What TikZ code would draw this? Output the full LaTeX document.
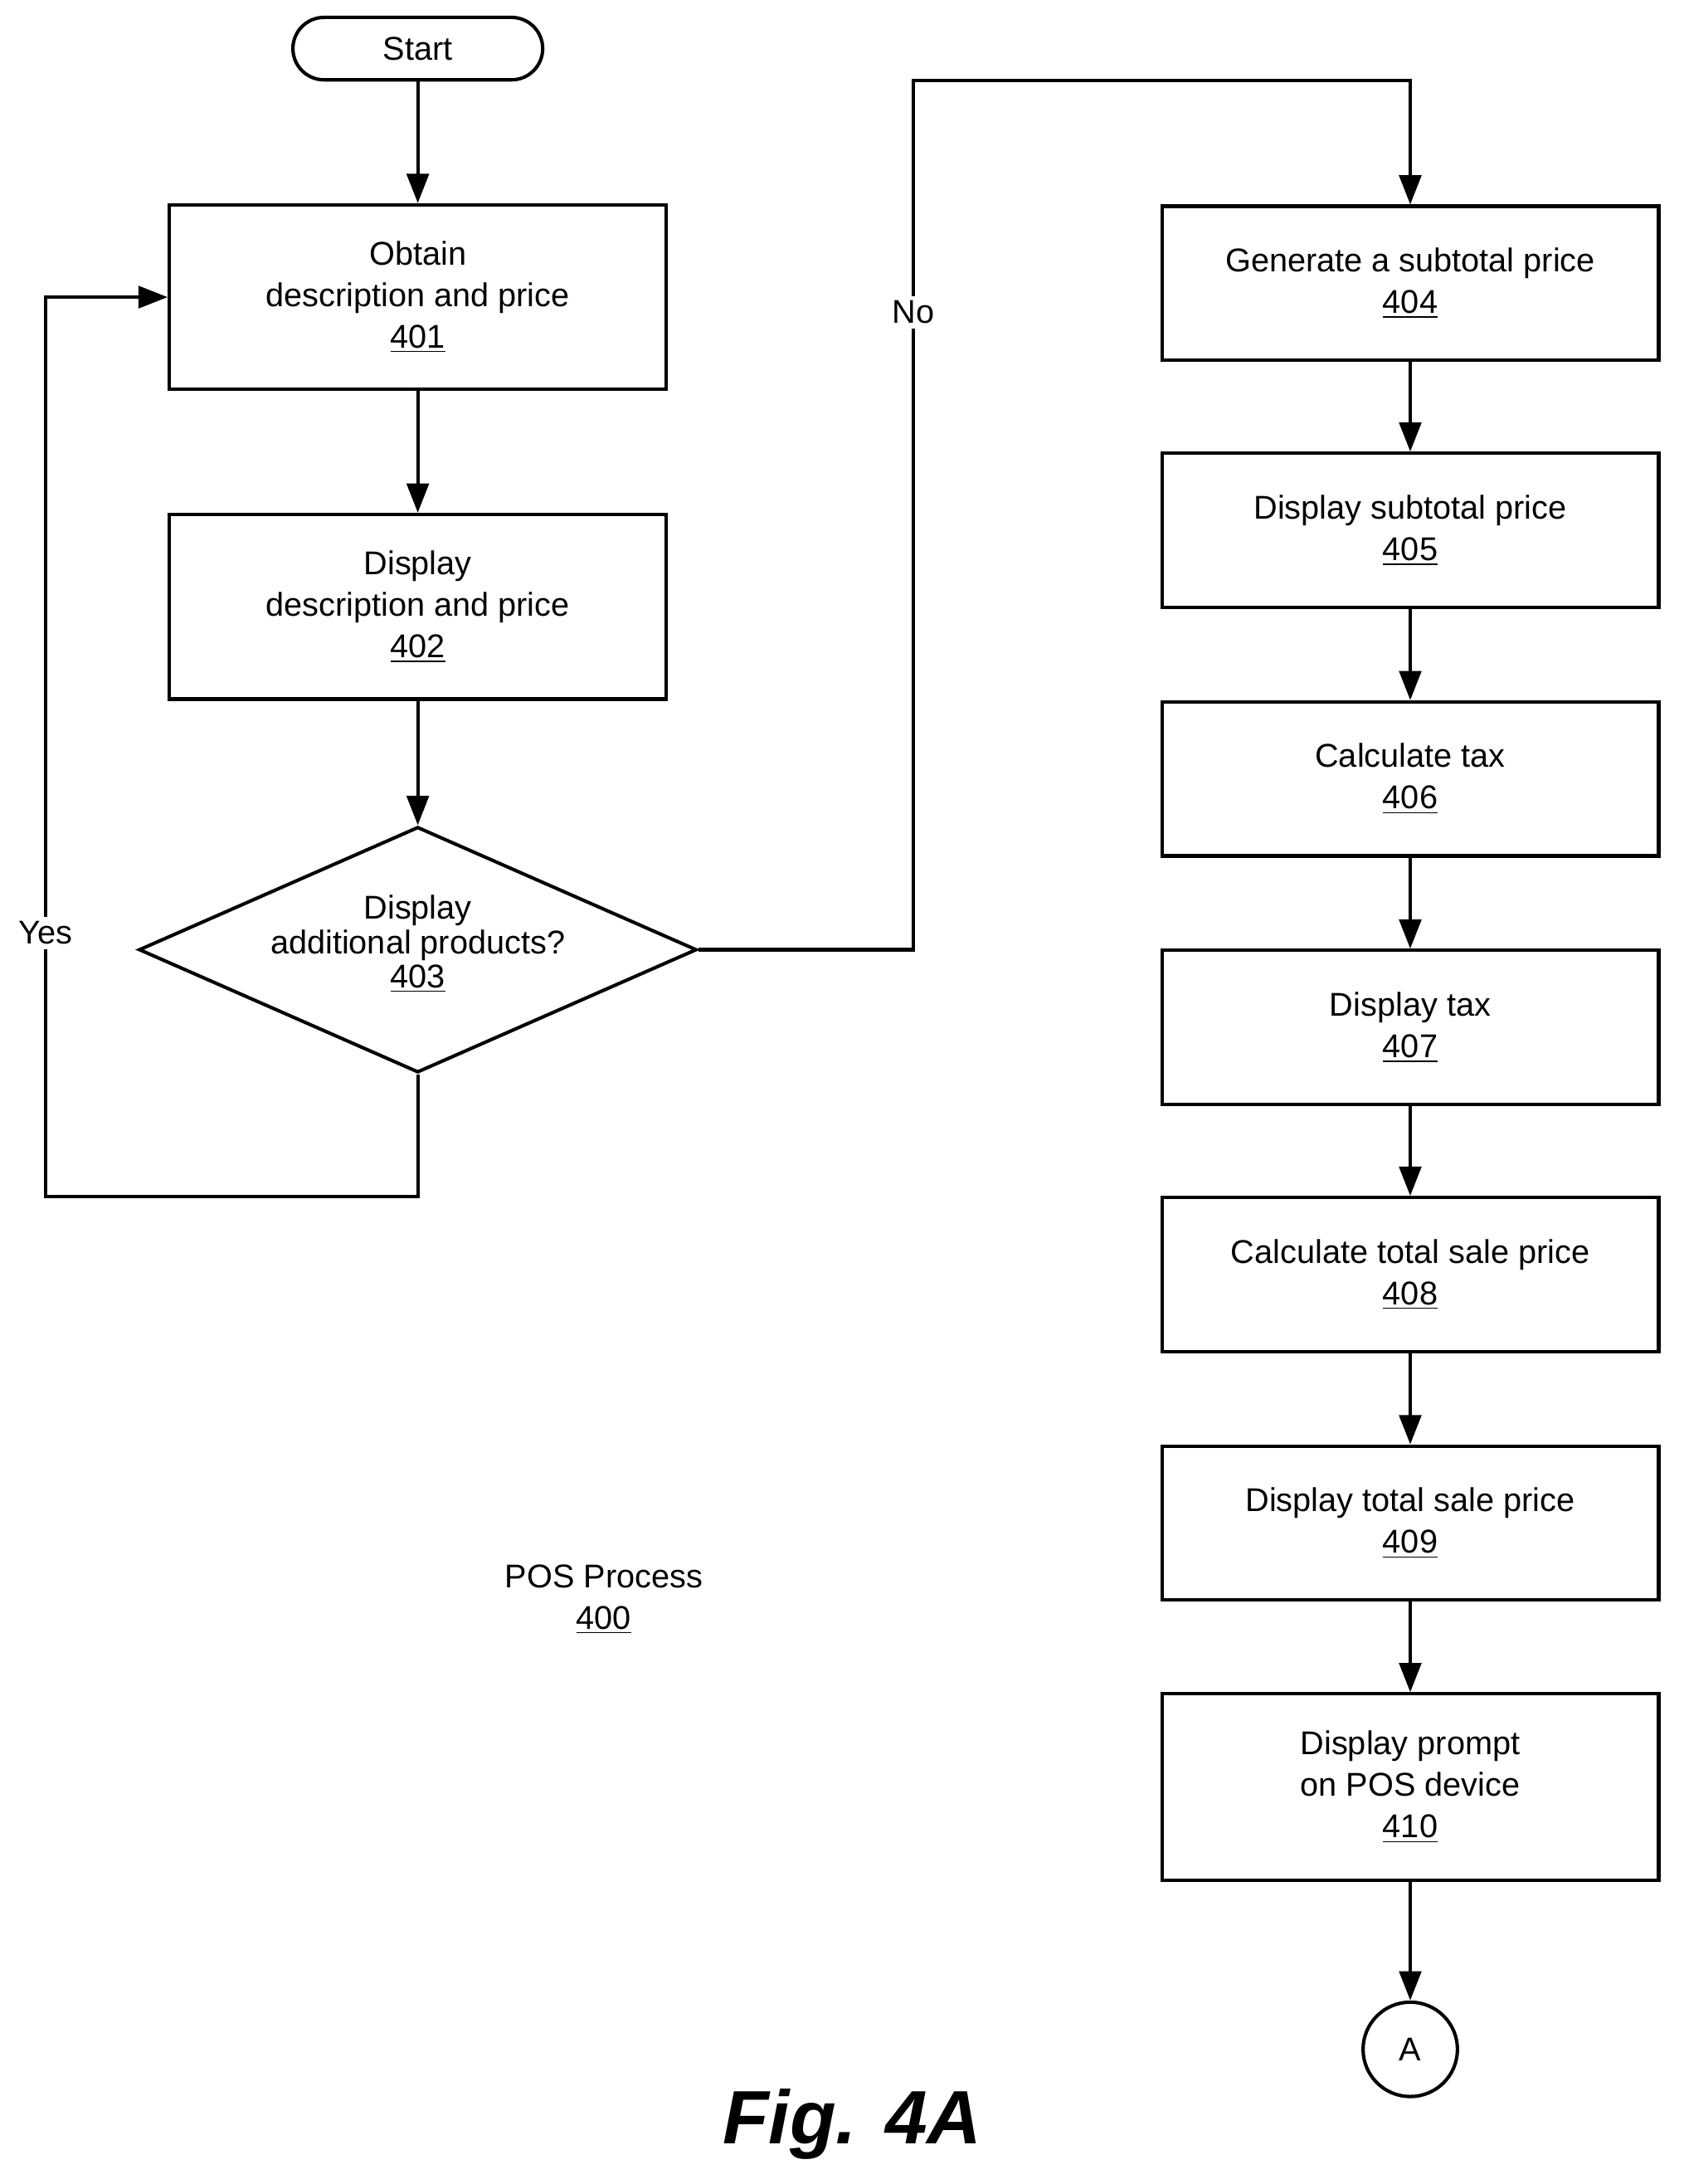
\documentclass[tikz,border=0pt]{standalone}
\usepackage{fontspec}
\setmainfont{Liberation Sans}
\usetikzlibrary{shapes.geometric,arrows.meta}
\begin{document}
\begin{tikzpicture}[x=0.02cm,y=-0.02cm,
  every node/.style={font=\fontsize{13.5}{17}\selectfont,align=center},
  box/.style={draw,line width=1.4pt,minimum width=7.16cm,inner sep=0pt},
  line/.style={line width=1.4pt},
  arr/.style={line width=1.4pt,-{Triangle[length=12pt,width=9pt]}}]
\useasboundingbox (0,0) rectangle (1213,1573);
\node[draw,line width=1.4pt,rounded corners=0.45cm,minimum width=3.6cm,minimum height=0.9cm] (start) at (301,35) {Start};
\node[box,minimum height=2.66cm] (b401) at (301,214) {Obtain\\description and price\\\underline{401}};
\node[box,minimum height=2.66cm] (b402) at (301,437) {Display\\description and price\\\underline{402}};
\node[draw,line width=1.4pt,diamond,aspect=2.27,minimum width=8.04cm,minimum height=3.54cm,inner sep=0pt] (d403) at (301,684) {};
\node at (301,680) {Display\\[-3pt]additional products?\\[-3pt]\underline{403}};
\node[box,minimum height=2.22cm] (b404) at (1016,204) {Generate a subtotal price\\\underline{404}};
\node[box,minimum height=2.22cm] (b405) at (1016,382) {Display subtotal price\\\underline{405}};
\node[box,minimum height=2.22cm] (b406) at (1016,561) {Calculate tax\\\underline{406}};
\node[box,minimum height=2.22cm] (b407) at (1016,740) {Display tax\\\underline{407}};
\node[box,minimum height=2.22cm] (b408) at (1016,918) {Calculate total sale price\\\underline{408}};
\node[box,minimum height=2.22cm] (b409) at (1016,1097) {Display total sale price\\\underline{409}};
\node[box,minimum height=2.68cm] (b410) at (1016,1287) {Display prompt\\on POS device\\\underline{410}};
\node[draw,circle,line width=1.4pt,minimum size=1.36cm,inner sep=0pt] (A) at (1016,1476) {A};
\node (pos) at (435,1152) {POS Process\\\underline{400}};
\node (fig) at (614,1530) {\fontsize{31}{36}\selectfont\bfseries\itshape Fig. 4A};
\draw[arr] (start) -- (b401);
\draw[arr] (b401) -- (b402);
\draw[arr] (b402) -- (d403.north);
\coordinate (y1) at (301,862); \coordinate (y2) at (33,862); \coordinate (y3) at (33,214);
\draw[arr] (d403.south) -- (y1) -- (y2) -- (y3) -- (b401.west);
\node[fill=white,inner sep=2pt] (yes) at (33,672) {Yes};
\coordinate (n1) at (658,684); \coordinate (n2) at (658,58); \coordinate (n3) at (1016,58);
\draw[arr] (d403.east) -- (n1) -- (n2) -- (n3) -- (b404.north);
\node[fill=white,inner sep=2pt] (no) at (658,225) {No};
\draw[arr] (b404) -- (b405);
\draw[arr] (b405) -- (b406);
\draw[arr] (b406) -- (b407);
\draw[arr] (b407) -- (b408);
\draw[arr] (b408) -- (b409);
\draw[arr] (b409) -- (b410);
\draw[arr] (b410) -- (A);
\end{tikzpicture}
\end{document}
